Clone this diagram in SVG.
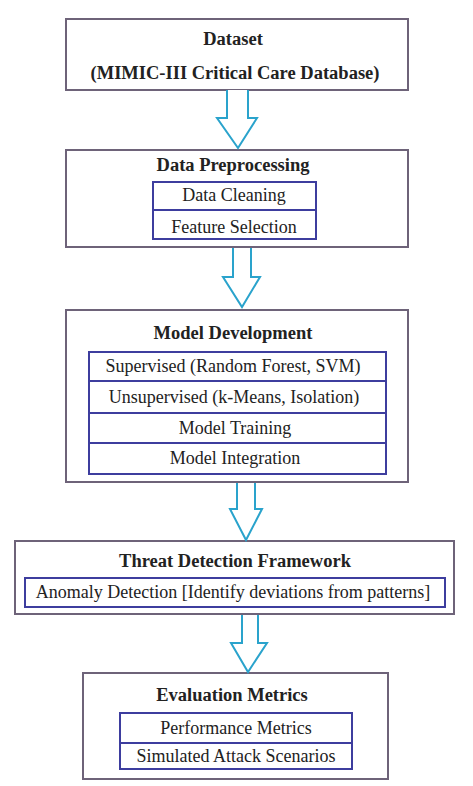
<svg xmlns="http://www.w3.org/2000/svg" width="473" height="786" viewBox="0 0 473 786">
<style>
.outer{fill:#fff;stroke:#6e6379;stroke-width:2}
.inner{fill:#fff;stroke:#3d3d9e;stroke-width:2}
.div{stroke:#3d3d9e;stroke-width:2}
.arrow{fill:#fff;stroke:#2aa3cc;stroke-width:2;stroke-linejoin:miter}
text{font-family:"Liberation Serif","Times New Roman",serif;fill:#222;text-anchor:middle}
.t{font-weight:bold;font-size:18.5px}
.s{font-size:18px}
</style>
<rect width="473" height="786" fill="#fff"/>
<g id="dataset">
<rect class="outer" x="66" y="19" width="342" height="71"/>
<text class="t" x="233" y="45">Dataset</text>
<text class="t" x="235" y="79">(MIMIC-III Critical Care Database)</text>
</g>
<g id="preprocessing">
<rect class="outer" x="66" y="150" width="342" height="97"/>
<text class="t" x="233" y="171">Data Preprocessing</text>
<rect class="inner" x="153" y="182" width="163" height="57"/>
<line class="div" x1="153" y1="210" x2="316" y2="210"/>
<text class="s" x="234" y="201">Data Cleaning</text>
<text class="s" x="234" y="233">Feature Selection</text>
</g>
<g id="model">
<rect class="outer" x="66" y="310" width="342" height="172"/>
<text class="t" x="233" y="339">Model Development</text>
<rect class="inner" x="89" y="352" width="297" height="122"/>
<line class="div" x1="89" y1="381" x2="386" y2="381"/>
<line class="div" x1="89" y1="413" x2="386" y2="413"/>
<line class="div" x1="89" y1="443" x2="386" y2="443"/>
<text class="s" x="233" y="372">Supervised (Random Forest, SVM)</text>
<text class="s" x="234" y="403">Unsupervised (k-Means, Isolation)</text>
<text class="s" x="235" y="434">Model Training</text>
<text class="s" x="235" y="464">Model Integration</text>
</g>
<g id="threat">
<rect class="outer" x="15" y="541" width="439" height="73"/>
<text class="t" x="235" y="567">Threat Detection Framework</text>
<rect class="inner" x="25" y="578" width="420" height="29"/>
<text class="s" x="233" y="598">Anomaly Detection [Identify deviations from patterns]</text>
</g>
<g id="evaluation">
<rect class="outer" x="83" y="673" width="305" height="106"/>
<text class="t" x="232" y="701">Evaluation Metrics</text>
<rect class="inner" x="120" y="713" width="232" height="56"/>
<line class="div" x1="120" y1="743" x2="352" y2="743"/>
<text class="s" x="236" y="734">Performance Metrics</text>
<text class="s" x="236" y="762">Simulated Attack Scenarios</text>
</g>
<g id="connectors">
<path class="arrow" d="M227,90 V118 H217 L238,148 L257,118 H248 V90"/>
<path class="arrow" d="M233,248 V277 H223 L242,307 L260,277 H251 V248"/>
<path class="arrow" d="M237,483 V509 H230 L246,540 L262,509 H255 V483"/>
<path class="arrow" d="M242,615 V643 H231 L248,672 L267,643 H258 V615"/>
</g>
</svg>
